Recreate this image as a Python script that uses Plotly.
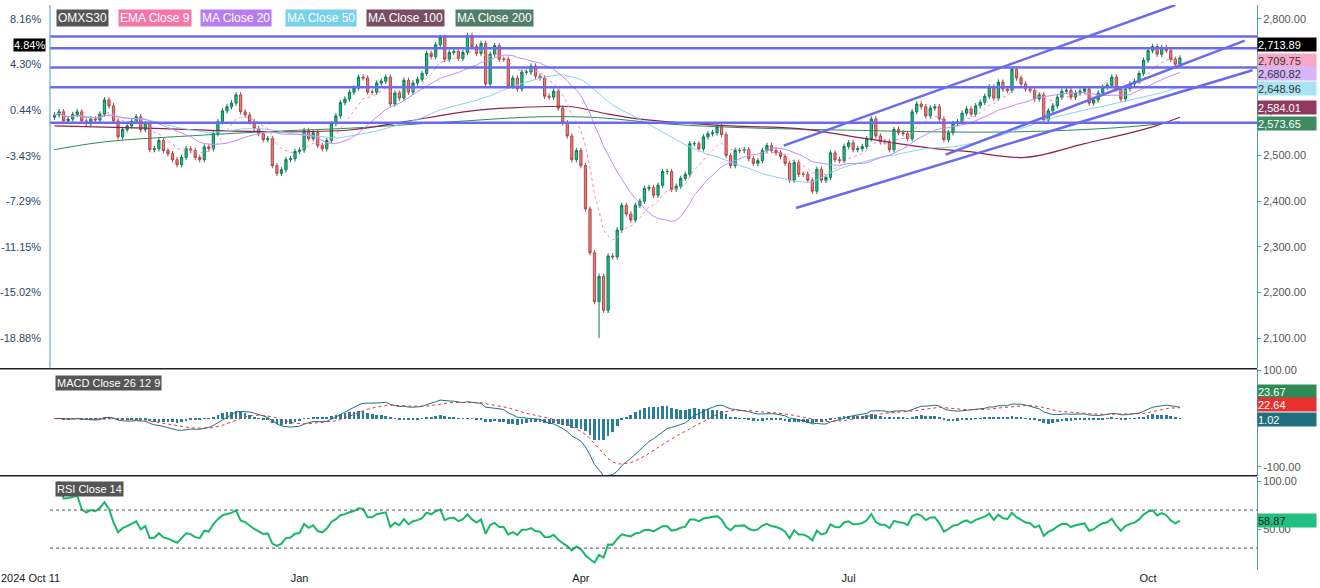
import pandas as pd
import plotly.graph_objects as go
from plotly.subplots import make_subplots

# daily closes (OMXS30, from 2024-10-11)
closes = [
    2589, 2596, 2576, 2580, 2590, 2596, 2576, 2570, 2580, 2578, 2591, 2622, 2609, 2576, 2541, 2557,
    2565, 2575, 2585, 2557, 2570, 2513, 2515, 2533, 2511, 2504, 2491, 2480, 2496, 2515, 2511, 2496,
    2491, 2519, 2515, 2548, 2574, 2598, 2607, 2615, 2633, 2596, 2589, 2574, 2559, 2548, 2535, 2537,
    2478, 2461, 2469, 2491, 2493, 2509, 2512, 2555, 2537, 2550, 2522, 2515, 2533, 2570, 2587,
    2616, 2624, 2639, 2648, 2672, 2670, 2639, 2639, 2659, 2663, 2672, 2613, 2637, 2626, 2665, 2639,
    2659, 2667, 2680, 2724, 2717, 2743, 2759, 2711, 2726, 2728, 2713, 2726, 2763, 2739, 2724, 2746,
    2657, 2722, 2741, 2711, 2711, 2652, 2670, 2646, 2683, 2683, 2696, 2674, 2670, 2630, 2628, 2641,
    2604, 2572, 2543, 2491, 2511, 2478, 2383, 2287, 2180, 2235, 2161, 2280, 2278, 2337, 2391, 2372,
    2359, 2391, 2400, 2428, 2430, 2413, 2435, 2465, 2465, 2426, 2433, 2450, 2459, 2526, 2526, 2515,
    2541, 2548, 2550, 2563, 2546, 2500, 2478, 2511, 2511, 2513, 2493, 2483, 2489, 2511, 2522, 2511,
    2506, 2498, 2483, 2446, 2485, 2459, 2459, 2446, 2422, 2470, 2446, 2452, 2506, 2491, 2489, 2520,
    2528, 2513, 2515, 2520, 2537, 2580, 2543, 2530, 2530, 2513, 2557, 2550, 2548, 2537,
    2596, 2613, 2607, 2587, 2604, 2607, 2580, 2535, 2550, 2570, 2574, 2593, 2602, 2591, 2609, 2617,
    2630, 2650, 2626, 2661, 2646, 2643, 2689, 2670, 2657, 2646, 2643, 2624, 2633, 2578, 2598, 2609,
    2628, 2641, 2643, 2628, 2637, 2641, 2646, 2615, 2622, 2637, 2650, 2654, 2672, 2646, 2624, 2646,
    2657, 2663, 2680, 2709, 2730, 2739, 2722, 2737, 2730, 2711, 2700, 2713.89,
]
wick = 6
big_wicks = {"2025-04-07": 2100}   # deep low on the crash day

# long averages (index, value); their history before the window is not shown
ma100_pts = [(0, 2565), (20, 2560), (50, 2552), (65, 2556), (77, 2574), (92, 2598), (107, 2607),
             (114, 2607), (122, 2591), (129, 2580), (149, 2565), (164, 2559), (179, 2537),
             (194, 2515), (201, 2509), (214, 2496), (227, 2526), (242, 2563), (248, 2584)]
ma200_pts = [(0, 2513), (11, 2530), (33, 2545), (50, 2554), (65, 2560), (89, 2575), (107, 2585),
             (120, 2583), (134, 2570), (149, 2562), (178, 2555), (194, 2552), (212, 2552),
             (234, 2561), (248, 2574)]

h_levels = [2761, 2735, 2693, 2650, 2572]
trend_lines = [((160.7, 2521.7), (247.0, 2830)), ((163.4, 2385), (264.0, 2687)),
               ((196.4, 2502), (262.3, 2752))]

se_holidays = ["2024-12-24", "2024-12-25", "2024-12-26", "2024-12-31", "2025-01-01", "2025-01-06",
               "2025-04-18", "2025-04-21", "2025-05-01", "2025-05-29", "2025-06-06", "2025-06-20"]

base = 2588.7
price_ticks = [2100, 2200, 2300, 2400, 2500, 2600, 2700, 2800]

right_labels = [("2,713.89", 2743, "#000000", "white"), ("2,709.75", 2709, "#f7a8c8", "#333"),
                ("2,680.82", 2680, "#d8b4f8", "#333"), ("2,648.96", 2646, "#a8e4f4", "#333"),
                ("2,584.01", 2606, "#8e3a5e", "white"), ("2,573.65", 2571, "#3d8a63", "white")]

n = len(closes)
idx = list(range(n))
bday = pd.offsets.CustomBusinessDay(holidays=se_holidays)
dates = pd.date_range(start="2024-10-11", periods=n, freq=bday)
s = pd.Series(closes, dtype=float)
opens = [closes[0] - 5] + closes[:-1]
highs = [max(o, c) + wick for o, c in zip(opens, closes)]
lows = [big_wicks.get(dt.strftime("%Y-%m-%d"), min(o, c) - wick) for dt, o, c in zip(dates, opens, closes)]

ema9 = s.ewm(span=9, adjust=False).mean()
ma20 = s.rolling(20, min_periods=1).mean()
ma50 = s.rolling(50, min_periods=1).mean()
macd = s.ewm(span=12, adjust=False).mean() - s.ewm(span=26, adjust=False).mean()
signal = macd.ewm(span=9, adjust=False).mean()
hist = macd - signal
d = s.diff()
up = d.clip(lower=0).ewm(alpha=1 / 14, adjust=False).mean()
dn = (-d.clip(upper=0)).ewm(alpha=1 / 14, adjust=False).mean()
rsi = 100 - 100 / (1 + up / dn)

fig = make_subplots(rows=3, cols=1, shared_xaxes=True, vertical_spacing=0)

fig.add_trace(go.Scatter(x=[p[0] for p in ma200_pts], y=[p[1] for p in ma200_pts], mode="lines",
                         line=dict(color="#2e8b57", width=1, shape="spline")), row=1, col=1)
fig.add_trace(go.Scatter(x=[p[0] for p in ma100_pts], y=[p[1] for p in ma100_pts], mode="lines",
                         line=dict(color="#8b2252", width=1.2, shape="spline")), row=1, col=1)
fig.add_trace(go.Scatter(x=idx, y=ma50, mode="lines", line=dict(color="#87d3ee", width=1)), row=1, col=1)
fig.add_trace(go.Scatter(x=idx, y=ma20, mode="lines", line=dict(color="#c08cf8", width=1)), row=1, col=1)
fig.add_trace(go.Scatter(x=idx, y=ema9, mode="lines", line=dict(color="#ff86b8", width=1, dash="dot")), row=1, col=1)
fig.add_trace(go.Candlestick(x=idx, open=opens, high=highs, low=lows, close=closes, whiskerwidth=0,
                             increasing=dict(fillcolor="#20c08a", line=dict(color="#0b7a52", width=1)),
                             decreasing=dict(fillcolor="#e88080", line=dict(color="#b04848", width=1))),
              row=1, col=1)

fig.add_trace(go.Bar(x=idx, y=hist, marker_color="#2a7f98", marker_line_width=0, width=0.6), row=2, col=1)
fig.add_trace(go.Scatter(x=idx, y=macd, mode="lines", line=dict(color="#1f6f80", width=1)), row=2, col=1)
fig.add_trace(go.Scatter(x=idx, y=signal, mode="lines", line=dict(color="#e83030", width=1, dash="dot")), row=2, col=1)

fig.add_trace(go.Scatter(x=idx, y=rsi, mode="lines", line=dict(color="#18b86a", width=2)), row=3, col=1)

for lv in h_levels:
    fig.add_shape(type="line", xref="paper", x0=0, x1=1, yref="y", y0=lv, y1=lv,
                  line=dict(color="#6a6af0", width=2.5))
for (x0, y0), (x1, y1) in trend_lines:
    fig.add_shape(type="line", xref="x", yref="y", x0=x0, y0=y0, x1=x1, y1=y1,
                  line=dict(color="#6a6af0", width=2.5))
for lv in [70, 30]:
    fig.add_shape(type="line", xref="paper", x0=0, x1=1, yref="y3", y0=lv, y1=lv,
                  line=dict(color="#555", width=1, dash="dot"))
for yp in [0.356, 0.167]:
    fig.add_shape(type="line", xref="paper", yref="paper", x0=-0.042, x1=1.0, y0=yp, y1=yp,
                  line=dict(color="#222", width=1.5))

# legend tags
tags = [("OMXS30", "#555555", 56), ("EMA Close 9", "#f576a8", 118), ("MA Close 20", "#b67cf0", 200),
        ("MA Close 50", "#78d0ec", 285), ("MA Close 100", "#7a4e62", 366), ("MA Close 200", "#4f7f6a", 455)]
for t, c, xp in tags:
    fig.add_annotation(xref="paper", yref="paper", x=(xp - 50) / 1207, y=0.993, xanchor="left",
                       yanchor="top", text=t, showarrow=False, bgcolor=c,
                       font=dict(color="white", size=12), borderpad=1)
fig.add_annotation(xref="paper", yref="paper", x=5 / 1207, y=0.345, xanchor="left", yanchor="top",
                   text="MACD Close 26 12 9", showarrow=False, bgcolor="#555555",
                   font=dict(color="white", size=11), borderpad=1)
fig.add_annotation(xref="paper", yref="paper", x=5 / 1207, y=0.158, xanchor="left", yanchor="top",
                   text="RSI Close 14", showarrow=False, bgcolor="#555555",
                   font=dict(color="white", size=11), borderpad=1)

# left percent scale
for p in price_ticks:
    fig.add_annotation(xref="paper", yref="y", x=-0.006, y=p, xanchor="right", showarrow=False,
                       text=f"{(p / base - 1) * 100:.2f}%", font=dict(color="#2a4a6a", size=11))
fig.add_annotation(xref="paper", yref="y", x=-0.003, y=2743, xanchor="right", showarrow=False,
                   text=f"{(closes[-1] / base - 1) * 100:.2f}%", bgcolor="black", borderpad=0,
                   font=dict(color="white", size=11))
fig.add_annotation(xref="paper", yref="paper", x=-0.042, y=-0.014, xanchor="left", yanchor="middle",
                   showarrow=False, text=dates[0].strftime("%Y %b %d"), font=dict(color="#222", size=11))

for t, yv, bg, fc in right_labels:
    fig.add_annotation(xref="paper", yref="y", x=1.0, y=yv, xanchor="left", showarrow=False,
                       text=t, bgcolor=bg, font=dict(color=fc, size=11), width=58, height=13,
                       borderpad=0, align="left")
for t, yv, bg, fc in [(f"{macd.iloc[-1]:.2f}", 57, "#2e8b57", "white"),
                      (f"{signal.iloc[-1]:.2f}", 29, "#e83030", "white"),
                      (f"{hist.iloc[-1]:.2f}", -1, "#1f6f80", "white")]:
    fig.add_annotation(xref="paper", yref="y2", x=1.0, y=yv, xanchor="left", showarrow=False,
                       text=t, bgcolor=bg, font=dict(color=fc, size=11), width=58, height=13,
                       borderpad=0, align="left")
fig.add_annotation(xref="paper", yref="y3", x=1.0, y=rsi.iloc[-1], xanchor="left", showarrow=False,
                   text=f"{rsi.iloc[-1]:.2f}", bgcolor="#20c080", font=dict(color="#222", size=11),
                   width=58, height=13, borderpad=0, align="left")

month_starts = [i for i in range(1, n) if dates[i].month != dates[i - 1].month and dates[i].month in (1, 4, 7, 10)]
axis_font = dict(color="#555", size=11)
fig.update_xaxes(range=[-1, n + 16], showgrid=False, zeroline=False, rangeslider_visible=False,
                 showline=False)
fig.update_xaxes(row=3, col=1, tickvals=month_starts, ticktext=[dates[i].strftime("%b") for i in month_starts],
                 tickfont=dict(color="#222", size=11), ticks="")
fig.update_yaxes(side="right", showgrid=False, zeroline=False, showline=True, linecolor="#4a9ab8",
                 tickfont=axis_font, ticks="outside", ticklen=3, tickcolor="#4a9ab8")
fig.update_yaxes(row=1, col=1, domain=[0.358, 1], range=[2035, 2830], tickvals=price_ticks,
                 ticktext=[f"{p:,.2f}" for p in price_ticks])
fig.update_yaxes(row=2, col=1, domain=[0.167, 0.356], range=[-118, 103], tickvals=[100, -100],
                 ticktext=["100.00", "-100.00"])
fig.update_yaxes(row=3, col=1, domain=[0, 0.165], range=[7, 105], tickvals=[100, 50],
                 ticktext=["100.00", "50.00"])
fig.update_layout(width=1320, height=588, margin=dict(l=50, r=63, t=0, b=18), showlegend=False,
                  plot_bgcolor="white", paper_bgcolor="white", bargap=0,
                  font=dict(family="Liberation Sans, Arial, sans-serif"))
fig.add_shape(type="line", xref="paper", yref="paper", x0=0, x1=0, y0=0.358, y1=1,
              line=dict(color="#4a9ab8", width=1))
fig.write_html("out.html", config={"displayModeBar": False},
               post_script="document.body.style.margin='0';")
